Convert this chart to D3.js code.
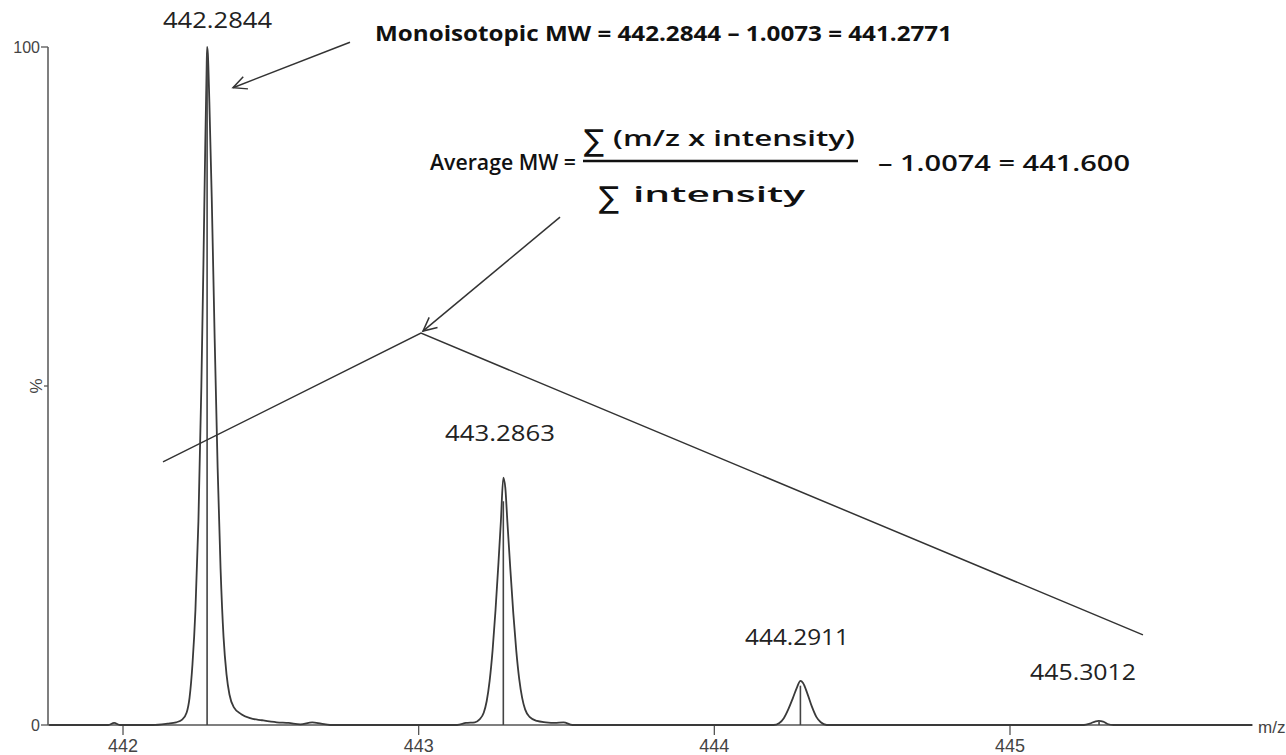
<!DOCTYPE html>
<html><head><meta charset="utf-8">
<script src="https://cdn.jsdelivr.net/npm/d3@7"></script>
<style>
html,body{margin:0;padding:0;background:#fff;}
svg{display:block;}
</style></head>
<body>
<svg id="chart" width="1286" height="755"></svg>
<script>
// ---- data ----
const profileMz = [441.75,441.95,441.97,441.99,442.10,442.15,442.18,442.20,442.215,442.225,442.235,442.245,442.255,442.265,442.272,442.278,442.2825,442.2844,442.287,442.292,442.30,442.31,442.32,442.33,442.34,442.35,442.36,442.375,442.40,442.43,442.47,442.52,442.56,442.60,442.64,442.67,442.70,442.90,443.13,443.16,443.19,443.205,443.22,443.23,443.24,443.25,443.26,443.27,443.278,443.2863,443.293,443.30,443.31,443.32,443.33,443.34,443.35,443.36,443.375,443.40,443.43,443.46,443.49,443.52,444.20,444.22,444.235,444.25,444.265,444.28,444.2911,444.30,444.315,444.33,444.345,444.36,444.38,445.25,445.27,445.29,445.30,445.315,445.33,445.35,445.82];
const profileInt = [0,0,0.3,0,0,0.2,0.4,0.8,1.8,4,9,17,30,50,68,85,96,100,99,92,78,57,38,23,13,7.5,4.5,2.6,1.6,1.0,0.7,0.4,0.3,0.1,0.4,0.2,0,0,0,0.3,0.4,0.8,1.8,3.5,6.5,11,17,24,30,36.5,35,30,23,16.5,11,6.8,4,2.3,1.2,0.6,0.4,0.3,0.4,0,0,0.3,1.0,2.3,3.9,5.6,6.5,6.2,4.6,2.7,1.2,0.4,0,0,0.2,0.55,0.6,0.5,0.15,0,0];
const peakMz = [442.2844, 443.2863, 444.2911, 445.3012];
const stickInt = [99, 33, 5.8, 0.5];
const peakLabels = ["442.2844", "443.2863", "444.2911", "445.3012"];
const xTicks = [442, 443, 444, 445];
const yTicks = [0, 50, 100];
const yTickLabels = ["0", "%", "100"];
// annotation geometry in data units (m/z, %)
const avgPolyline = [[442.1352, 38.8], [443.0078, 57.8], [445.4497, 13.3]];
const avgArrow = [[443.478, 74.9], [443.0145, 58.1]];
const monoArrow = [[442.7677, 100.7], [442.372, 94.0]];

// ---- scales ----
const svg = d3.select("#chart");
const x = d3.scaleLinear().domain([441.7463, 445.8185]).range([48, 1252]);
const y = d3.scaleLinear().domain([0, 100]).range([725, 47]);

// x axis line
svg.append("line").attr("x1", x.range()[0]).attr("x2", x.range()[1])
  .attr("y1", y(0)).attr("y2", y(0)).attr("stroke", "#555").attr("stroke-width", 1.3);
// y axis line
svg.append("line").attr("x1", 48).attr("x2", 48).attr("y1", y(100)).attr("y2", y(0))
  .attr("stroke", "#555").attr("stroke-width", 1.5);

// x ticks
const xg = svg.append("g");
xg.selectAll("line").data(xTicks).join("line")
  .attr("x1", d => x(d)).attr("x2", d => x(d)).attr("y1", y(0) + 1).attr("y2", y(0) + 10)
  .attr("stroke", "#555").attr("stroke-width", 1.3);
xg.selectAll("text").data(xTicks).join("text")
  .attr("x", d => x(d)).attr("y", 752).attr("text-anchor", "middle")
  .attr("font-family", "Liberation Sans, Arial, sans-serif").attr("font-size", 18)
  .attr("fill", "#444").text(d => d);

// y ticks
const yg = svg.append("g");
yg.selectAll("line").data(yTicks).join("line")
  .attr("x1", d => d === 50 ? 44 : 41).attr("x2", 48).attr("y1", d => y(d)).attr("y2", d => y(d))
  .attr("stroke", "#555").attr("stroke-width", 1.3);
yg.selectAll("text").data(yTicks).join("text")
  .attr("transform", (d, i) => yTickLabels[i] === "%" ? `translate(42,${y(d)}) rotate(-90)` : `translate(40,${y(d) + 6})`)
  .attr("text-anchor", (d, i) => yTickLabels[i] === "%" ? "middle" : "end")
  .attr("font-family", "Liberation Sans, Arial, sans-serif").attr("font-size", (d, i) => yTickLabels[i] === "%" ? 17 : 16)
  .attr("fill", "#444").text((d, i) => yTickLabels[i]);

// m/z label
svg.append("text").attr("x", 1258).attr("y", 733)
  .attr("font-family", "Liberation Sans, Arial, sans-serif").attr("font-size", 17)
  .attr("fill", "#444").text("m/z");

// profile trace
const pts = profileMz.map((m, i) => [m, profileInt[i]]);
svg.append("path").datum(pts)
  .attr("d", d3.line().x(d => x(d[0])).y(d => y(d[1])).curve(d3.curveMonotoneX))
  .attr("fill", "none").attr("stroke", "#3a3a3a").attr("stroke-width", 1.8);

// centroid sticks
svg.append("g").selectAll("line").data(peakMz).join("line")
  .attr("x1", d => x(d)).attr("x2", d => x(d)).attr("y1", y(0)).attr("y2", (d, i) => y(stickInt[i]))
  .attr("stroke", "#444").attr("stroke-width", 1.6);

// peak labels
const labelPos = [[163, 28, 109], [445, 441, 110], [745, 645, 104], [1030, 680, 106]];
svg.append("g").selectAll("text").data(peakLabels).join("text")
  .attr("x", (d, i) => labelPos[i][0]).attr("y", (d, i) => labelPos[i][1])
  .attr("textLength", (d, i) => labelPos[i][2]).attr("lengthAdjust", "spacingAndGlyphs")
  .attr("font-family", "Open Sans, sans-serif").attr("font-size", 22)
  .attr("fill", "#222").text(d => d);

// annotation lines
const annLine = d3.line().x(d => x(d[0])).y(d => y(d[1]));
svg.append("path").datum(avgPolyline).attr("d", annLine)
  .attr("fill", "none").attr("stroke", "#333").attr("stroke-width", 1.5);

function arrow(p) {
  const x0 = x(p[0][0]), y0 = y(p[0][1]), x1 = x(p[1][0]), y1 = y(p[1][1]);
  const a = Math.atan2(y0 - y1, x0 - x1), L = 15, w = 0.45;
  svg.append("line").attr("x1", x0).attr("y1", y0).attr("x2", x1).attr("y2", y1)
    .attr("stroke", "#333").attr("stroke-width", 1.5);
  svg.append("path")
    .attr("d", `M${x1 + L * Math.cos(a + w)},${y1 + L * Math.sin(a + w)}L${x1},${y1}L${x1 + L * Math.cos(a - w)},${y1 + L * Math.sin(a - w)}`)
    .attr("fill", "none").attr("stroke", "#333").attr("stroke-width", 1.5);
}
arrow(monoArrow);
arrow(avgArrow);

// formula texts
const ff = "Open Sans, sans-serif";
svg.append("text").attr("x", 375).attr("y", 41).attr("textLength", 577).attr("lengthAdjust", "spacingAndGlyphs")
  .attr("font-family", ff).attr("font-weight", "bold").attr("font-size", 22).attr("fill", "#111")
  .text("Monoisotopic MW = 442.2844 \u2013 1.0073 = 441.2771");

svg.append("text").attr("x", 430).attr("y", 170).attr("textLength", 146).attr("lengthAdjust", "spacingAndGlyphs")
  .attr("font-family", ff).attr("font-weight", 600).attr("font-size", 21).attr("fill", "#111").text("Average MW =");
svg.append("line").attr("x1", 583).attr("x2", 858).attr("y1", 161).attr("y2", 161)
  .attr("stroke", "#111").attr("stroke-width", 2.5);
svg.append("text").attr("x", 584).attr("y", 151).attr("font-family", "DejaVu Sans, sans-serif")
  .attr("font-size", 30).attr("fill", "#111").text("\u2211");
svg.append("text").attr("x", 613).attr("y", 146).attr("textLength", 242).attr("lengthAdjust", "spacingAndGlyphs")
  .attr("font-family", ff).attr("font-weight", 600).attr("font-size", 21).attr("fill", "#111").text("(m/z x intensity)");
svg.append("text").attr("x", 599).attr("y", 208).attr("font-family", "DejaVu Sans, sans-serif")
  .attr("font-size", 30).attr("fill", "#111").text("\u2211");
svg.append("text").attr("x", 633).attr("y", 202).attr("textLength", 172).attr("lengthAdjust", "spacingAndGlyphs")
  .attr("font-family", ff).attr("font-weight", 600).attr("font-size", 21).attr("fill", "#111").text("intensity");
svg.append("text").attr("x", 878).attr("y", 171).attr("textLength", 252).attr("lengthAdjust", "spacingAndGlyphs")
  .attr("font-family", ff).attr("font-weight", 600).attr("font-size", 21).attr("fill", "#111")
  .text("\u2013 1.0074  =  441.600");
</script>
</body></html>
